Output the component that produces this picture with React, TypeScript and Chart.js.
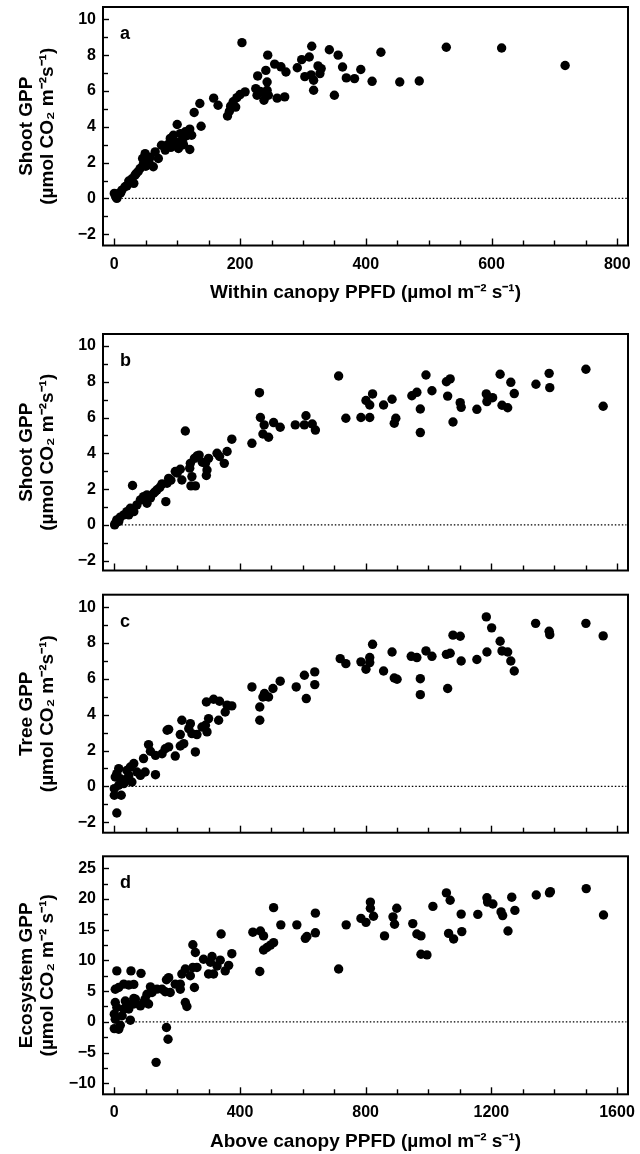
import React, { useEffect, useRef } from 'react';
import { Chart, registerables } from 'chart.js';

Chart.register(...registerables);

const FONT = "'Liberation Sans', Arial, Helvetica, sans-serif";

// ---------- Data (PPFD, GPP) ----------
const shootWithinPPFD = [203, 314, 342, 244, 356, 310, 298, 255, 265, 273, 291, 241, 228, 243, 303, 313, 324, 329, 327, 317, 317, 350, 225, 232, 237, 227, 238, 245, 243, 259, 271, 208, 200, 195, 189, 185, 193, 183, 180, 158, 165, 136, 127, 138, 100, 120, 123, 120, 113, 105, 94, 89, 97, 102, 108, 81, 75, 65, 62, 70, 49, 45, 55, 57, 41, 33, 28, 31, 23, 17, 12, 7, 2, 4, 0, 363, 369, 382, 392, 410, 424, 454, 485, 528, 616, 717, 95, 110, 115, 85, 90, 46, 50, 38, 35, 20, 10, 5];
const shootWithinGPP = [8.7, 8.5, 8.3, 8.0, 8.0, 7.9, 7.75, 7.5, 7.35, 7.06, 7.3, 7.15, 6.84, 6.5, 6.8, 6.9, 7.4, 7.25, 6.97, 6.6, 6.04, 5.76, 6.13, 5.98, 5.9, 5.76, 5.48, 5.76, 6.04, 5.6, 5.67, 5.95, 5.8, 5.63, 5.4, 5.15, 5.1, 4.87, 4.6, 5.6, 5.2, 5.3, 4.8, 4.03, 4.13, 3.87, 3.53, 2.73, 3.72, 3.62, 3.53, 3.35, 3.16, 2.79, 3.25, 2.7, 2.97, 2.6, 1.77, 2.23, 2.5, 2.23, 2.04, 2.3, 1.67, 1.3, 1.1, 0.84, 0.97, 0.65, 0.46, 0.28, 0.1, 0, 0.28, 7.34, 6.73, 6.69, 7.2, 6.54, 8.16, 6.5, 6.56, 8.44, 8.4, 7.42, 3.0, 3.0, 3.5, 3.0, 2.85, 1.9, 1.8, 1.5, 1.4, 0.7, 0.3, 0.15];

const shootAbovePPFD = [462, 226, 58, 465, 477, 507, 528, 473, 491, 438, 374, 576, 610, 605, 640, 630, 714, 359, 350, 327, 335, 300, 290, 295, 293, 263, 255, 242, 240, 247, 258, 244, 210, 194, 215, 173, 168, 152, 164, 136, 125, 104, 93, 104, 83, 72, 51, 40, 30, 19, 8, 3, 14, 46, 62, 1, 737, 785, 813, 801, 813, 822, 857, 884, 891, 896, 947, 963, 974, 974, 992, 1011, 1057, 1069, 1061, 1078, 1101, 1104, 1154, 1184, 1186, 1204, 1228, 1234, 1252, 1262, 1273, 1342, 1384, 1386, 1501, 1556, 115, 130, 145, 180, 200, 270, 280];
const shootAboveGPP = [7.39, 5.25, 2.2, 6.0, 5.59, 5.72, 5.46, 5.08, 4.9, 4.56, 4.79, 5.59, 6.1, 5.59, 5.3, 5.64, 8.32, 4.1, 3.44, 4.0, 3.82, 3.72, 3.44, 3.07, 2.76, 3.85, 3.72, 3.44, 3.17, 2.7, 2.18, 2.18, 3.11, 2.98, 2.51, 2.6, 2.33, 2.29, 1.3, 1.96, 1.77, 1.68, 1.58, 1.21, 1.4, 1.12, 0.93, 0.74, 0.56, 0.43, 0.28, 0.09, 0.19, 0.56, 0.74, 0, 5.96, 6.0, 6.0, 6.95, 6.7, 7.32, 6.7, 7.02, 5.68, 5.96, 7.22, 7.41, 6.48, 5.16, 8.38, 7.5, 8.0, 8.16, 7.2, 5.75, 6.83, 6.57, 6.46, 7.32, 6.89, 7.11, 8.42, 6.69, 6.55, 7.97, 7.34, 7.86, 8.47, 7.67, 8.7, 6.63, 1.5, 1.85, 2.1, 2.5, 2.9, 3.9, 3.5];

const treePPFD = [438, 463, 463, 473, 478, 491, 505, 528, 579, 605, 611, 638, 638, 374, 353, 359, 335, 316, 293, 332, 300, 290, 295, 279, 263, 258, 242, 237, 247, 215, 210, 168, 173, 221, 210, 194, 173, 162, 152, 131, 131, 109, 115, 93, 98, 83, 62, 51, 40, 14, 8, 3, 19, 35, 56, 30, 0, 0, 22, 8, 14, 46, 72, 719, 737, 785, 801, 813, 813, 822, 857, 884, 891, 900, 945, 963, 974, 974, 992, 1011, 1057, 1069, 1061, 1078, 1101, 1104, 1154, 1184, 1186, 1201, 1228, 1234, 1252, 1262, 1273, 1341, 1384, 1386, 1501, 1556];
const treeGPP = [5.55, 4.43, 3.69, 4.99, 5.18, 4.99, 5.46, 5.87, 5.55, 6.2, 4.9, 6.39, 5.68, 4.49, 4.15, 4.53, 4.75, 4.86, 4.71, 3.69, 3.78, 3.41, 3.04, 3.31, 2.89, 1.92, 3.5, 3.22, 2.94, 3.69, 2.89, 3.13, 3.18, 2.38, 2.25, 1.69, 2.2, 2.1, 1.82, 1.73, 0.65, 2.33, 1.96, 1.55, 0.8, 0.61, 1.27, 1.08, 0.89, 0.99, 0.71, 0.52, 0.43, 0.34, 0.24, 0.15, -0.13, -0.5, -0.5, -1.49, 0.06, 0.61, 0.8, 7.13, 6.85, 6.95, 6.54, 7.19, 6.91, 7.93, 6.44, 7.5, 6.05, 5.98, 7.26, 7.19, 6.01, 5.12, 7.56, 7.26, 7.37, 7.43, 5.46, 8.44, 8.38, 7.0, 7.08, 9.46, 7.5, 8.85, 8.1, 7.56, 7.5, 7.0, 6.44, 9.1, 8.66, 8.47, 9.1, 8.4];

const ecoPPFD = [507, 640, 340, 441, 465, 475, 530, 581, 608, 613, 640, 507, 497, 486, 475, 463, 714, 374, 364, 353, 337, 327, 311, 306, 316, 300, 284, 258, 250, 255, 250, 263, 242, 226, 215, 210, 226, 231, 173, 166, 194, 210, 178, 162, 152, 136, 115, 120, 104, 98, 109, 93, 83, 67, 62, 53, 85, 62, 46, 30, 14, 8, 3, 3, 8, 0, 3, 0, 14, 19, 25, 30, 35, 46, 51, 40, 62, 166, 171, 133, 738, 785, 801, 815, 815, 825, 860, 887, 892, 899, 950, 963, 976, 976, 995, 1014, 1057, 1069, 1064, 1080, 1104, 1106, 1157, 1186, 1188, 1205, 1231, 1236, 1253, 1265, 1275, 1343, 1388, 1385, 1502, 1557];
const ecoGPP = [18.6, 17.7, 14.3, 14.6, 14.8, 14.0, 15.8, 15.8, 13.6, 13.9, 14.5, 12.9, 12.5, 12.1, 11.7, 8.2, 8.6, 11.1, 9.2, 8.3, 10.05, 9.1, 10.65, 9.7, 7.8, 7.8, 10.2, 11.3, 12.55, 5.6, 8.86, 8.86, 7.5, 8.6, 7.8, 5.3, 3.15, 2.5, 7.2, 6.85, 6.14, 6.14, 4.78, 4.9, 5.3, 5.33, 5.7, 4.78, 4.5, 3.7, 2.9, 3.15, 2.6, 3.7, 2.9, 8.3, 7.9, 6.1, 6.0, 6.14, 5.6, 8.3, 5.3, 3.15, 2.34, 1.25, 0.43, -1.1, -1.2, -0.55, 1.0, 2.1, 3.4, 2.1, 0.27, 2.9, 3.8, -0.92, -2.83, -6.6, 15.8, 16.85, 16.2, 19.5, 18.5, 17.2, 14.0, 17.1, 15.9, 18.5, 16.0, 14.3, 14.0, 11.0, 10.9, 18.8, 21.0, 19.8, 14.4, 13.5, 17.55, 14.7, 17.5, 20.2, 19.5, 19.2, 17.9, 17.3, 14.8, 20.3, 18.15, 20.65, 21.2, 21.0, 21.7, 17.4];

// zero reference line
const zeroLineWithin = [0, 815];
const zeroLineAbove = [0, 1630];

// axis titles
const titleShoot = ['Shoot GPP', '(µmol CO₂ m⁻²s⁻¹)'];
const titleTree = ['Tree GPP', '(µmol CO₂ m⁻²s⁻¹)'];
const titleEco = ['Ecosystem GPP', '(µmol CO₂ m⁻² s⁻¹)'];
const xTitleWithin = 'Within canopy PPFD (µmol m⁻² s⁻¹)';
const xTitleAbove = 'Above canopy PPFD (µmol m⁻² s⁻¹)';

type Spec = {
  letter: string;
  top: number;
  height: number;
  boxTop: number;
  boxBottom: number;
  xs: number[];
  ys: number[];
  zero: number[];
  xMin: number; xMax: number; xStep: number; xMajor: number; xLabels: boolean; xTitle?: string;
  yMin: number; yMax: number; yStep: number; yMajor: number; yTitle: string[];
};

const specs: Spec[] = [
  { letter: 'a', top: 0, height: 305, boxTop: 7, boxBottom: 245.5, xs: shootWithinPPFD, ys: shootWithinGPP, zero: zeroLineWithin,
    xMin: -18, xMax: 817, xStep: 50, xMajor: 200, xLabels: true, xTitle: xTitleWithin,
    yMin: -2.63, yMax: 10.69, yStep: 1, yMajor: 2, yTitle: titleShoot },
  { letter: 'b', top: 305, height: 280, boxTop: 29, boxBottom: 265.5, xs: shootAbovePPFD, ys: shootAboveGPP, zero: zeroLineAbove,
    xMin: -36, xMax: 1635, xStep: 100, xMajor: 400, xLabels: false,
    yMin: -2.55, yMax: 10.67, yStep: 1, yMajor: 2, yTitle: titleShoot },
  { letter: 'c', top: 585, height: 260, boxTop: 9.7, boxBottom: 247.7, xs: treePPFD, ys: treeGPP, zero: zeroLineAbove,
    xMin: -36, xMax: 1635, xStep: 100, xMajor: 400, xLabels: false,
    yMin: -2.59, yMax: 10.7, yStep: 1, yMajor: 2, yTitle: titleTree },
  { letter: 'd', top: 845, height: 309, boxTop: 11.3, boxBottom: 249.3, xs: ecoPPFD, ys: ecoGPP, zero: zeroLineAbove,
    xMin: -36, xMax: 1635, xStep: 100, xMajor: 400, xLabels: true, xTitle: xTitleAbove,
    yMin: -11.8, yMax: 26.96, yStep: 2.5, yMajor: 5, yTitle: titleEco },
];

const BOX_LEFT = 103;
const BOX_RIGHT = 628;

const isMult = (v: number, m: number) => Math.abs(v / m - Math.round(v / m)) < 1e-6;
const fmt = (v: number) => (v < 0 ? '\u2212' + Math.abs(v) : String(v));

const framePlugin = {
  id: 'frame',
  afterDatasetsDraw(chart: any, _args: any, opts: any) {
    const { ctx, chartArea } = chart;
    const { left, right, top, bottom } = chartArea;
    const xs = chart.scales.x;
    const ys = chart.scales.y;
    ctx.save();
    ctx.strokeStyle = '#000';
    ctx.lineWidth = 1.4;
    xs.ticks.forEach((t: any) => {
      const px = Math.round(xs.getPixelForValue(t.value)) + 0.5;
      const len = isMult(t.value, opts.xMajor) ? 7 : 5;
      ctx.beginPath();
      ctx.moveTo(px, bottom);
      ctx.lineTo(px, bottom - len);
      ctx.stroke();
    });
    ys.ticks.forEach((t: any) => {
      const py = Math.round(ys.getPixelForValue(t.value)) + 0.5;
      const len = isMult(t.value, opts.yMajor) ? 6 : 5;
      ctx.beginPath();
      ctx.moveTo(left, py);
      ctx.lineTo(left + len, py);
      ctx.stroke();
    });
    ctx.lineWidth = 2;
    ctx.strokeRect(left, top, right - left, bottom - top);
    ctx.fillStyle = '#000';
    ctx.font = `bold 18px ${FONT}`;
    ctx.textBaseline = 'middle';
    ctx.textAlign = 'left';
    ctx.fillText(opts.letter, left + 17, top + 27);
    ctx.restore();
  },
};

function makeConfig(s: Spec): any {
  const points = s.xs.map((x, i) => ({ x, y: s.ys[i] }));
  const zero = s.zero.map((x) => ({ x, y: 0 }));
  return {
    type: 'scatter',
    data: {
      datasets: [
        {
          type: 'line',
          data: zero,
          borderColor: '#000',
          borderWidth: 1.3,
          borderDash: [1.5, 2],
          pointRadius: 0,
          fill: false,
          order: 2,
        },
        {
          data: points,
          backgroundColor: '#000',
          borderWidth: 0,
          pointRadius: 4.7,
          order: 1,
        },
      ],
    },
    options: {
      responsive: false,
      animation: false,
      events: [],
      devicePixelRatio: 1,
      layout: { padding: { top: s.boxTop, right: 640 - BOX_RIGHT, left: 0, bottom: 0 } },
      plugins: {
        legend: { display: false },
        tooltip: { enabled: false },
        frame: { letter: s.letter, xMajor: s.xMajor, yMajor: s.yMajor },
      },
      scales: {
        x: {
          type: 'linear',
          min: s.xMin,
          max: s.xMax,
          grid: { display: false, drawTicks: false },
          border: { display: false },
          ticks: {
            stepSize: s.xStep,
            includeBounds: false,
            autoSkip: false,
            maxRotation: 0,
            display: s.xLabels,
            padding: 9,
            color: '#000',
            font: { family: FONT, size: 16, weight: 'bold' },
            callback: (v: number) => (isMult(v, s.xMajor) ? fmt(v) : ''),
          },
          title: s.xTitle
            ? {
                display: true,
                text: s.xTitle,
                color: '#000',
                font: { family: FONT, size: 19, weight: 'bold', lineHeight: 1.2 },
                padding: { top: 0, bottom: 0.5 },
              }
            : { display: false },
          afterFit: (scale: any) => {
            scale.height = s.height - s.boxBottom;
            scale.paddingLeft = 0;
            scale.paddingRight = 0;
          },
        },
        y: {
          type: 'linear',
          min: s.yMin,
          max: s.yMax,
          grid: { display: false, drawTicks: false },
          border: { display: false },
          ticks: {
            stepSize: s.yStep,
            includeBounds: false,
            autoSkip: false,
            padding: 7,
            color: '#000',
            font: { family: FONT, size: 16, weight: 'bold' },
            callback: (v: number) => (isMult(v, s.yMajor) ? fmt(v) : ''),
          },
          title: {
            display: true,
            text: s.yTitle,
            color: '#000',
            font: { family: FONT, size: 19, weight: 'bold', lineHeight: 1.1 },
            padding: { top: 16.5, bottom: 0 },
          },
          afterFit: (scale: any) => {
            scale.width = BOX_LEFT;
            scale.paddingTop = 0;
            scale.paddingBottom = 0;
          },
        },
      },
    },
    plugins: [framePlugin],
  };
}

function Panel({ spec }: { spec: Spec }) {
  const ref = useRef<HTMLCanvasElement | null>(null);
  useEffect(() => {
    if (!ref.current) return;
    const chart = new Chart(ref.current, makeConfig(spec));
    return () => chart.destroy();
  }, [spec]);
  return (
    <canvas
      ref={ref}
      width={640}
      height={spec.height}
      style={{ position: 'absolute', left: 0, top: spec.top, width: 640, height: spec.height }}
    />
  );
}

export default function App() {
  return (
    <div style={{ position: 'absolute', left: 0, top: 0, width: 640, height: 1154, background: '#fff' }}>
      {specs.map((s) => (
        <Panel key={s.letter} spec={s} />
      ))}
    </div>
  );
}
